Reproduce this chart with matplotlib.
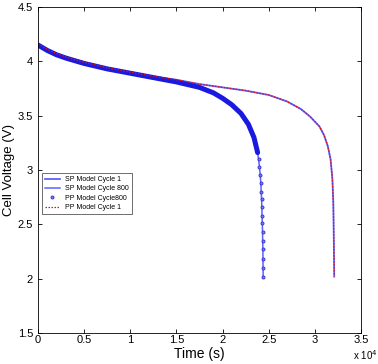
import numpy as np
import matplotlib
matplotlib.use('Agg')
import matplotlib.pyplot as plt
from matplotlib.ticker import FuncFormatter

plt.rcParams['font.family'] = ['Liberation Sans', 'DejaVu Sans']

# cycle 1 discharge (time s, voltage V)
t_c1 = [0, 1000, 2000, 3000, 5000, 7500, 10000, 12500, 15000, 17500, 20000,
        22500, 25000, 27000, 28500, 29500, 30500, 31000, 31400, 31700, 31900,
        32000, 32050, 32100]
v_c1 = [4.16, 4.11, 4.07, 4.04, 3.99, 3.94, 3.90, 3.86, 3.83, 3.79, 3.76,
        3.73, 3.69, 3.63, 3.56, 3.49, 3.40, 3.32, 3.22, 3.10, 2.92,
        2.70, 2.40, 2.02]

# cycle 800 discharge
t_c800 = [0, 1000, 2000, 3000, 5000, 7500, 10000, 12500, 15000, 17500, 19000,
          20000, 21000, 22000, 22800, 23400, 23800, 24000, 24150, 24250, 24320,
          24370, 24400]
v_c800 = [4.15, 4.10, 4.06, 4.03, 3.98, 3.93, 3.89, 3.85, 3.81, 3.76, 3.71,
          3.66, 3.60, 3.52, 3.42, 3.30, 3.16, 3.03, 2.88, 2.68, 2.47,
          2.26, 2.02]

# PP model cycle 800 tail points (sparse markers)
t_pp800 = [23900, 24000, 24080, 24140, 24190, 24230, 24260, 24290, 24310,
           24330, 24350, 24365, 24380, 24390, 24400]
v_pp800 = [3.10, 3.03, 2.95, 2.88, 2.80, 2.73, 2.66, 2.58, 2.51, 2.43,
           2.35, 2.27, 2.18, 2.10, 2.02]

fig = plt.figure(figsize=(3.78, 3.64), dpi=100)
ax = fig.add_axes([0.1005, 0.085, 0.8545, 0.896])

ax.plot(t_c1, v_c1, color='#6060ff', lw=1.3, label='SP Model Cycle 1')
ax.plot(t_c800, v_c800, color='#6060ff', lw=1.1, label='SP Model Cycle 800')
# dense PP markers near the top merge into a band
ax.plot(t_c800[:-6], v_c800[:-6], color='#1a1adf', lw=3.6, solid_capstyle='round')
ax.plot(t_pp800, v_pp800, 'o', ms=2.2, color='#3030cc', mfc='#7a7aee', mew=0.6,
        ls='none', label='PP Model Cycle800')
ax.plot(t_c1, v_c1, color='#e01010', lw=0.9, ls=(0, (1.2, 1.2)), label='PP Model Cycle 1')

ax.set_xlim(0, 35000)
ax.set_ylim(1.5, 4.5)
ax.set_xticks(np.arange(0, 35001, 5000))
ax.set_yticks(np.arange(1.5, 4.51, 0.5))
ax.xaxis.set_major_formatter(FuncFormatter(lambda v, p: '%g' % (v / 1e4)))
ax.yaxis.set_major_formatter(FuncFormatter(lambda v, p: '%g' % v))
ax.tick_params(direction='in', top=True, right=True, labelsize=8, length=3, width=0.6)
ax.tick_params(axis='x', pad=1.5)
for s in ax.spines.values():
    s.set_linewidth(0.6)

ax.set_xlabel('Time (s)', fontsize=10, labelpad=1)
ax.set_ylabel('Cell Voltage (V)', fontsize=9.5, labelpad=2)
ax.text(0.975, -0.046, 'x 10$^{4}$', transform=ax.transAxes, fontsize=7, ha='left', va='top')

leg = ax.legend(loc='lower left', bbox_to_anchor=(0.012, 0.365), fontsize=5,
                frameon=True, fancybox=False, edgecolor='black', borderpad=0.4,
                handlelength=2.2, labelspacing=0.35, borderaxespad=0)
leg.get_frame().set_linewidth(0.5)

fig.savefig('out.png', dpi=100)
